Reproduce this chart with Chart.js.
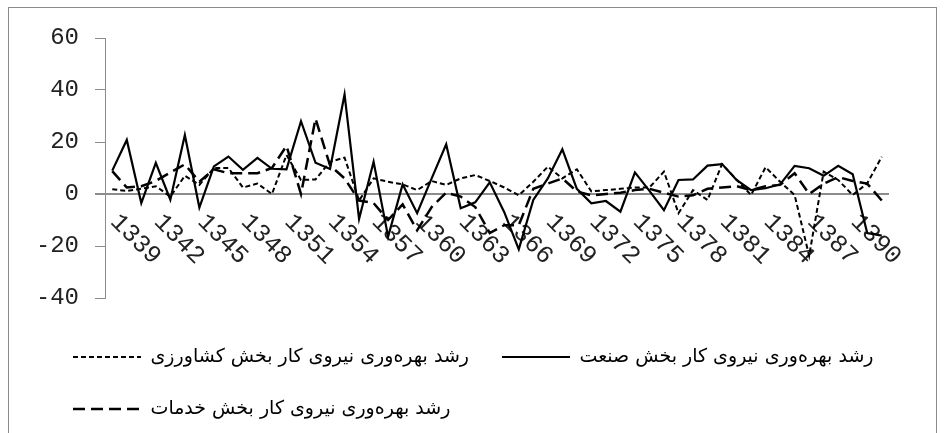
<!DOCTYPE html>
<html>
<head>
<meta charset="utf-8">
<script src="https://cdn.jsdelivr.net/npm/chart.js@4.4.1/dist/chart.umd.min.js"></script>
<style>
  html, body { margin: 0; padding: 0; background: #fff; overflow: hidden; }
  #wrap { position: relative; width: 944px; height: 433px; }
  #frame { position: absolute; left: 8px; top: 7px; width: 929px; height: 480px; border: 1px solid #8a8a8a; box-sizing: border-box; }
  #productivityChart { position: absolute; left: 0; top: 0; }
</style>
</head>
<body>
<div id="wrap">
  <div id="frame"></div>
  <canvas id="productivityChart" width="944" height="433"></canvas>
</div>
<script>
// years on the category axis (a label is shown for every third one)
const years = [
  '1339', '1340', '1341', '1342', '1343', '1344', '1345', '1346', '1347', '1348',
  '1349', '1350', '1351', '1352', '1353', '1354', '1355', '1356', '1357', '1358',
  '1359', '1360', '1361', '1362', '1363', '1364', '1365', '1366', '1367', '1368',
  '1369', '1370', '1371', '1372', '1373', '1374', '1375', '1376', '1377', '1378',
  '1379', '1380', '1381', '1382', '1383', '1384', '1385', '1386', '1387', '1388',
  '1389', '1390', '1391', '1392'
];

// growth of labour productivity, percent
const agriculture = [
  1.8, 1.2, 2, 3, -1, 7, 3.5, 10, 10, 2.5,
  4, 0, 15, 5.4, 5.6, 12.4, 14, -2.5, 6, 4.7,
  3.7, 1.5, 5, 3.5, 6, 7.3, 5, 2.5, -0.5, 4.7,
  10.5, 6, 9.5, 1, 1.5, 2, 2.5, 2.5, 8.6, -7.4,
  1.5, -2.3, 11.5, 5.5, -0.4, 10.3, 4.7, -0.4, -23.8, 8.6,
  5.4, -0.4, 4.1, 14.3
];
const industry = [
  9, 20.8, -3.5, 12, -2.2, 22.7, -5.2, 10.6, 14.4, 9.3,
  13.9, 9.7, 9.5, 28, 12, 9.6, 38.3, -9.6, 12.4, -16.4,
  3.7, -7.4, 6, 19.1, -5.5, -3.2, 4.5, -7, -21.3, -2.3,
  6, 17.2, 2, -3.6, -2.7, -6.8, 8.3, 1.2, -6.2, 5.4,
  5.6, 10.9, 11.5, 5.4, 1.5, 2.2, 3.7, 10.8, 9.9, 7,
  10.8, 7.6, -15, -16
];
const services = [
  8.8, 2.5, 3, 5, 8.3, 11.4, 4.7, 9.5, 8, 8,
  8, 10, 18.5, 0, 29, 11, 6, -2.5, -3.5, -10,
  -4, -14, -5, 0.5, -1, -5, -15, -12, -12, 2,
  4, 6, 1, -0.5, 0, 0.5, 1.5, 2, 0.5, -1,
  -0.5, 2, 2.5, 3, 1.5, 3, 3.5, 8, 0, 4,
  6.5, 5, 4, -2.5
];

const seriesNames = [
  'رشد بهره‌وری نیروی کار بخش کشاورزی',
  'رشد بهره‌وری نیروی کار بخش صنعت',
  'رشد بهره‌وری نیروی کار بخش خدمات'
];

const numberFont = 'Liberation Mono';

// year labels sit under the zero line, turned 45 degrees downwards
const rotatedYearLabels = {
  id: 'rotatedYearLabels',
  beforeDatasetsDraw(chart) {
    const { ctx, scales } = chart;
    const zeroY = scales.y.getPixelForValue(0);
    ctx.save();
    ctx.font = '25px "' + numberFont + '"';
    ctx.fillStyle = '#222';
    ctx.textAlign = 'left';
    ctx.textBaseline = 'middle';
    years.forEach((year, i) => {
      if (i % 3 !== 0) return;
      const x = scales.x.getPixelForValue(i);
      ctx.save();
      ctx.translate(x + 2, zeroY + 24);
      ctx.rotate(Math.PI / 4);
      ctx.fillText(year, 0, 0);
      ctx.restore();
    });
    ctx.restore();
  }
};

function lineSet(label, data, width, dash) {
  return {
    label: label,
    data: data,
    borderColor: '#000',
    backgroundColor: '#000',
    borderWidth: width,
    borderDash: dash,
    pointRadius: 0,
    pointHoverRadius: 0,
    fill: false,
    tension: 0
  };
}

const chart = new Chart('productivityChart', {
  type: 'line',
  data: {
    labels: years,
    datasets: [
      lineSet(seriesNames[0], agriculture, 2, [5, 3]),
      lineSet(seriesNames[1], industry, 2.2, []),
      lineSet(seriesNames[2], services, 2.5, [12, 6])
    ]
  },
  options: {
    responsive: false,
    animation: false,
    layout: { padding: { top: 38, left: 40, right: 0, bottom: 4.5 } },
    scales: {
      x: { type: 'category', display: false, offset: true },
      y: {
        min: -40,
        max: 60,
        ticks: { stepSize: 20, color: '#222', padding: 16, font: { family: numberFont, size: 24 } },
        grid: {
          color: (c) => (c.tick && c.tick.value === 0 ? '#8c8c8c' : 'rgba(0,0,0,0)'),
          lineWidth: (c) => (c.tick && c.tick.value === 0 ? 2 : 1),
          tickColor: '#8c8c8c',
          tickLength: 10
        },
        border: { display: true, color: '#8c8c8c', width: 1 },
        afterFit: (axis) => { axis.width = 65; }
      },
      // keeps the plot right edge where the original has it
      spacer: {
        type: 'linear',
        position: 'right',
        ticks: { display: false },
        grid: { display: false },
        border: { display: false },
        afterFit: (axis) => { axis.width = 55; }
      }
    },
    plugins: {
      tooltip: { enabled: false },
      legend: {
        position: 'bottom',
        align: 'start',
        title: { display: true, text: '', font: { size: 10, lineHeight: 1.2 }, padding: { top: 0, bottom: 4.5 } },
        labels: {
          usePointStyle: true,
          pointStyle: 'line',
          pointStyleWidth: 68,
          color: '#000',
          padding: 33,
          font: { family: 'DejaVu Sans', size: 19 },
          generateLabels: (c) => Chart.defaults.plugins.legend.labels.generateLabels(c).map((item) => {
            const ds = c.data.datasets[item.datasetIndex];
            item.lineDash = ds.borderDash;
            item.lineWidth = ds.borderWidth;
            return item;
          })
        }
      }
    }
  },
  plugins: [rotatedYearLabels]
});
</script>
</body>
</html>
